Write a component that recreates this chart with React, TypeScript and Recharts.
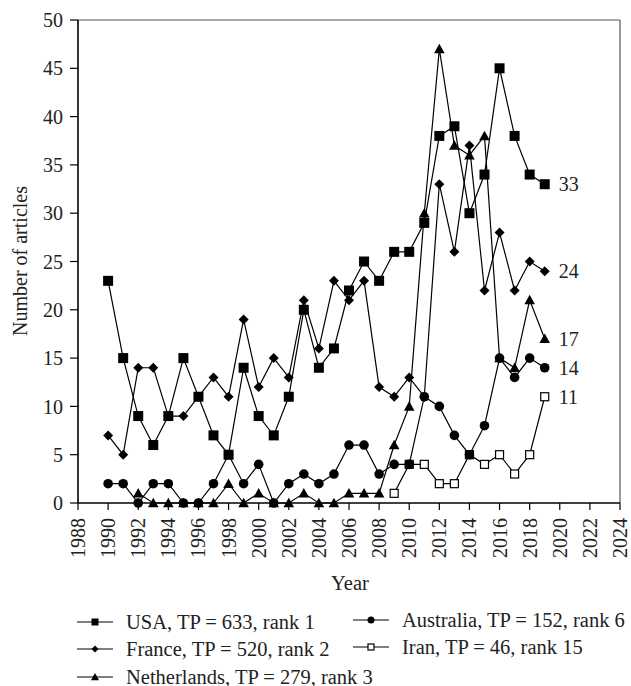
import React from 'react';
import {
  LineChart,
  Line,
  XAxis,
  YAxis,
  ReferenceLine,
  Label,
} from 'recharts';

const years = [
  1990, 1991, 1992, 1993, 1994, 1995, 1996, 1997, 1998, 1999,
  2000, 2001, 2002, 2003, 2004, 2005, 2006, 2007, 2008, 2009,
  2010, 2011, 2012, 2013, 2014, 2015, 2016, 2017, 2018, 2019,
];

const usa = [23, 15, 9, 6, 9, 15, 11, 7, 5, 14, 9, 7, 11, 20, 14, 16, 22, 25, 23, 26, 26, 29, 38, 39, 30, 34, 45, 38, 34, 33];
const france = [7, 5, 14, 14, 9, 9, 11, 13, 11, 19, 12, 15, 13, 21, 16, 23, 21, 23, 12, 11, 13, 11, 33, 26, 37, 22, 28, 22, 25, 24];
const netherlands = [null, null, 1, 0, 0, 0, 0, 0, 2, 0, 1, 0, 0, 1, 0, 0, 1, 1, 1, 6, 10, 30, 47, 37, 36, 38, 15, 14, 21, 17];
const australia = [2, 2, 0, 2, 2, 0, 0, 2, 5, 2, 4, 0, 2, 3, 2, 3, 6, 6, 3, 4, 4, 11, 10, 7, 5, 8, 15, 13, 15, 14];
const iran = [
  null, null, null, null, null, null, null, null, null, null,
  null, null, null, null, null, null, null, null, null, 1,
  4, 4, 2, 2, 5, 4, 5, 3, 5, 11,
];

const xTicks = [1988, 1990, 1992, 1994, 1996, 1998, 2000, 2002, 2004, 2006, 2008, 2010, 2012, 2014, 2016, 2018, 2020, 2022, 2024];
const yTicks = [0, 5, 10, 15, 20, 25, 30, 35, 40, 45, 50];

const legendItems = [
  { key: 'usa', name: 'USA, TP = 633, rank 1', shape: 'square' },
  { key: 'france', name: 'France, TP = 520, rank 2', shape: 'diamond' },
  { key: 'netherlands', name: 'Netherlands, TP = 279, rank 3', shape: 'triangle' },
  { key: 'australia', name: 'Australia, TP = 152, rank 6', shape: 'circle' },
  { key: 'iran', name: 'Iran, TP = 46, rank 15', shape: 'hollow' },
];

const data = years.map((year, i) => ({
  year,
  usa: usa[i],
  france: france[i],
  netherlands: netherlands[i],
  australia: australia[i],
  iran: iran[i],
}));

const FONT = '"Liberation Serif", "DejaVu Serif", serif';
const LAST = years.length - 1;

function Marker({ shape, cx, cy, s }: { shape: string; cx: number; cy: number; s: number }) {
  if (shape === 'square') {
    return <rect x={cx - s} y={cy - s} width={2 * s} height={2 * s} fill="#000" />;
  }
  if (shape === 'hollow') {
    return <rect x={cx - s + 0.5} y={cy - s + 0.5} width={2 * s - 1} height={2 * s - 1} fill="#fff" stroke="#000" strokeWidth={1.2} />;
  }
  if (shape === 'diamond') {
    return <path d={`M${cx},${cy - s} L${cx + s},${cy} L${cx},${cy + s} L${cx - s},${cy} Z`} fill="#000" />;
  }
  if (shape === 'triangle') {
    const t = s * 1.15;
    return <path d={`M${cx},${cy - t} L${cx + t},${cy + t * 0.8} L${cx - t},${cy + t * 0.8} Z`} fill="#000" />;
  }
  return <circle cx={cx} cy={cy} r={s} fill="#000" />;
}

function makeDot(shape: string, size: number) {
  return (props: any) => {
    const { cx, cy, index, value } = props;
    if (value == null || cx == null || cy == null) return <g key={`d-${shape}-${index}`} />;
    return (
      <g key={`d-${shape}-${index}`}>
        <Marker shape={shape} cx={cx} cy={cy} s={size} />
        {index === LAST && (
          <text x={cx + 14} y={cy} dominantBaseline="central" fontFamily={FONT} fontSize={20} fill="#222">
            {value}
          </text>
        )}
      </g>
    );
  };
}

const XTick = (props: any) => {
  const { x, y, payload } = props;
  return (
    <text
      x={x}
      y={y}
      transform={`rotate(-90 ${x} ${y})`}
      textAnchor="end"
      dominantBaseline="central"
      fontFamily={FONT}
      fontSize={20}
      fill="#222"
    >
      {payload.value}
    </text>
  );
};

function LegendRow({ shape, name, left, top }: { shape: string; name: string; left: number; top: number }) {
  return (
    <div style={{ position: 'absolute', left, top: top - 13, height: 26, display: 'flex', alignItems: 'center' }}>
      <svg width={36} height={26} style={{ display: 'block' }}>
        <line x1={0} y1={13} x2={36} y2={13} stroke="#000" strokeWidth={1.2} />
        <Marker shape={shape} cx={18} cy={13} s={3.5} />
      </svg>
      <span style={{ marginLeft: 13, fontFamily: FONT, fontSize: 20.5, color: '#222', whiteSpace: 'nowrap' }}>{name}</span>
    </div>
  );
}

const legendPos = [
  { left: 77, top: 622 },
  { left: 77, top: 649 },
  { left: 77, top: 677 },
  { left: 353, top: 620 },
  { left: 353, top: 647 },
];

export default function App() {
  return (
    <div style={{ position: 'absolute', left: 0, top: 0, width: 631, height: 686, background: '#fff', overflow: 'hidden' }}>
      <LineChart width={631} height={600} data={data} margin={{ top: 20, right: 11, left: 0, bottom: 0 }}>
        <XAxis
          dataKey="year"
          type="number"
          domain={[1988, 2024]}
          ticks={xTicks}
          interval={0}
          height={97}
          tickSize={7}
          tickMargin={8}
          tick={<XTick />}
          axisLine={{ stroke: '#000', strokeWidth: 1.6 }}
          tickLine={{ stroke: '#000', strokeWidth: 1.2 }}
        >
          <Label
            content={() => (
              <text x={350} y={583} textAnchor="middle" dominantBaseline="central" fontFamily={FONT} fontSize={20.5} fill="#222">
                Year
              </text>
            )}
          />
        </XAxis>
        <YAxis
          domain={[0, 50]}
          ticks={yTicks}
          interval={0}
          width={78}
          tickSize={8}
          tickMargin={7}
          tick={{ fontFamily: FONT, fontSize: 20, fill: '#222' }}
          axisLine={{ stroke: '#000', strokeWidth: 1.6 }}
          tickLine={{ stroke: '#000', strokeWidth: 1.2 }}
        >
          <Label
            content={() => (
              <text
                x={20}
                y={261}
                transform="rotate(-90 20 261)"
                textAnchor="middle"
                dominantBaseline="central"
                fontFamily={FONT}
                fontSize={20}
                fill="#222"
              >
                Number of articles
              </text>
            )}
          />
        </YAxis>
        <ReferenceLine y={50} stroke="#555" strokeWidth={1.2} />
        <ReferenceLine x={2024} stroke="#555" strokeWidth={1.2} />
        <Line dataKey="iran" stroke="#000" strokeWidth={1.2} dot={makeDot('hollow', 4.5)} isAnimationActive={false} />
        <Line dataKey="australia" stroke="#000" strokeWidth={1.2} dot={makeDot('circle', 4.8)} isAnimationActive={false} />
        <Line dataKey="netherlands" stroke="#000" strokeWidth={1.2} dot={makeDot('triangle', 4.6)} isAnimationActive={false} />
        <Line dataKey="france" stroke="#000" strokeWidth={1.2} dot={makeDot('diamond', 5)} isAnimationActive={false} />
        <Line dataKey="usa" stroke="#000" strokeWidth={1.2} dot={makeDot('square', 5)} isAnimationActive={false} />
      </LineChart>
      {legendItems.map((item, i) => (
        <LegendRow key={item.key} shape={item.shape} name={item.name} left={legendPos[i].left} top={legendPos[i].top} />
      ))}
    </div>
  );
}
